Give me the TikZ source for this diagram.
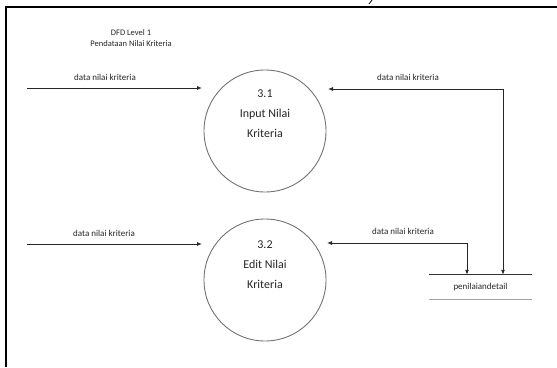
\documentclass[tikz,border=0pt]{standalone}
\usepackage{fontspec}
\setmainfont{Carlito}
\usetikzlibrary{arrows.meta}

\begin{document}
\begin{tikzpicture}
  [x=1pt,y=-1pt,
   every node/.style={font=\fontsize{9}{11}\selectfont,text=black!85},
   proc/.style={circle,draw=black!55,line width=0.9pt,minimum size=122pt,inner sep=0pt},
   ptext/.style={align=center,font=\fontsize{12}{20}\selectfont},
   flow/.style={draw=black!85,line width=0.9pt,-{Latex[length=5pt,width=4pt]}},
   dflow/.style={draw=black!85,line width=0.9pt,{Latex[length=5pt,width=4pt]}-{Latex[length=5pt,width=4pt]}}]
  \useasboundingbox (0,0) rectangle (557,367);
  \draw[line width=2pt] (6,367) -- (6,7) -- (557,7);
  \draw[line width=0.8pt] (369,4) -- (372,0);

  \node[align=center,font=\fontsize{8.5}{11}\selectfont] (title) at (131,38) {DFD Level 1\\Pendataan Nilai Kriteria};

  \node[proc] (p31) at (265,131) {};
  \node[proc] (p32) at (265,280) {};
  \node[ptext] (t31) at (265,114) {3.1\\Input Nilai\\Kriteria};
  \node[ptext] (t32) at (265,265) {3.2\\Edit Nilai\\Kriteria};

  \node[minimum width=103pt,minimum height=24pt,inner sep=0pt] (store) at (480.5,287) {penilaiandetail};
  \draw[black!80,line width=1pt] (store.north west) -- (store.north east);
  \draw[black!35,line width=1.2pt] (store.south west) -- (store.south east);

  \coordinate (in1) at (27,88);
  \coordinate (e1) at (202,88);
  \coordinate (in2) at (27,244);
  \coordinate (e2) at (202,244);
  \coordinate (e3) at (328,89);
  \coordinate (c3) at (503,89);
  \coordinate (e4) at (327,243);
  \coordinate (c4) at (467,243);

  \draw[flow] (in1) -- (e1);
  \draw[flow] (in2) -- (e2);
  \draw[dflow] (e3) -- (c3) -- (c3 |- store.north);
  \draw[dflow] (e4) -- (c4) -- (c4 |- store.north);

  \node (l1) at (105,77) {data nilai kriteria};
  \node (l2) at (104,233) {data nilai kriteria};
  \node (l3) at (408,77) {data nilai kriteria};
  \node (l4) at (403,231) {data nilai kriteria};

\end{tikzpicture}
\end{document}
